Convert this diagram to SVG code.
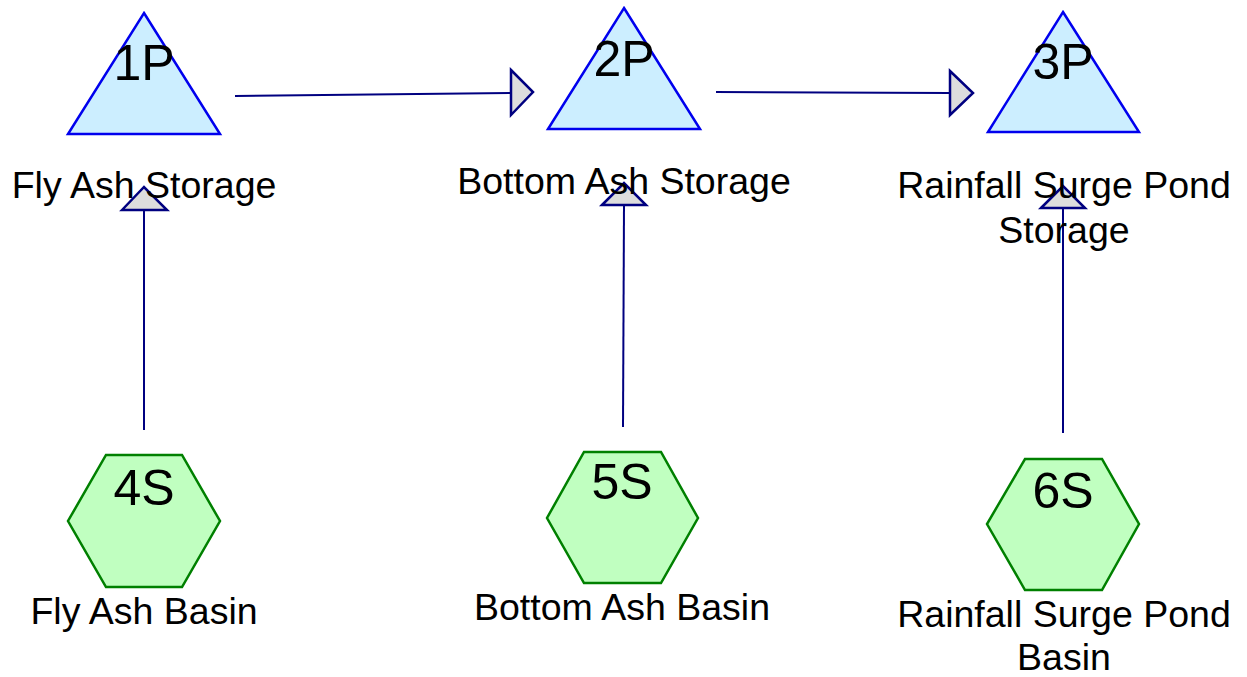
<svg xmlns="http://www.w3.org/2000/svg" width="1247" height="677" viewBox="0 0 1247 677">
<style>
.pond{fill:#CCEEFF;stroke:#0000EE;stroke-width:2.5;stroke-linejoin:miter}
.sub{fill:#C0FFC0;stroke:#008000;stroke-width:2.5}
.id{font-family:"Liberation Sans",Arial,sans-serif;font-size:50px;fill:#000;text-anchor:middle}
.nm{font-family:"Liberation Sans",Arial,sans-serif;font-size:37.5px;fill:#000;text-anchor:middle}
.ln{stroke:#000080;stroke-width:2;fill:none}
.ah{fill:#DDDDDD;stroke:#000080;stroke-width:2.5;stroke-linejoin:miter}
</style>
<rect width="1247" height="677" fill="#FFFFFF"/>
<g id="connectors">
<line class="ln" x1="235" y1="96" x2="511" y2="93"/>
<polygon class="ah" points="511,70 533,92 511,115"/>
<line class="ln" x1="716" y1="92" x2="950" y2="93"/>
<polygon class="ah" points="950,71 973,93 950,115"/>
<line class="ln" x1="144" y1="430" x2="144" y2="210"/>
<polygon class="ah" points="122,210 144,187 167,210"/>
<line class="ln" x1="623" y1="427" x2="624" y2="205"/>
<polygon class="ah" points="602,205 624,183 646,205"/>
<line class="ln" x1="1063" y1="433" x2="1063" y2="208"/>
<polygon class="ah" points="1041,208 1063,186 1085,208"/>
</g>
<g id="node-1P">
<polygon class="pond" points="144,13 220,134 68,134"/>
<text class="id" x="144" y="80">1P</text>
<text class="nm" x="144" y="198">Fly Ash Storage</text>
</g>
<g id="node-2P">
<polygon class="pond" points="624,8 700,129 548,129"/>
<text class="id" x="624" y="76">2P</text>
<text class="nm" x="624" y="194">Bottom Ash Storage</text>
</g>
<g id="node-3P">
<polygon class="pond" points="1063,12 1139,132 988,132"/>
<text class="id" x="1063" y="79">3P</text>
<text class="nm" x="1064" y="198">Rainfall Surge Pond</text>
<text class="nm" x="1064" y="243">Storage</text>
</g>
<g id="node-4S">
<polygon class="sub" points="106,455 182,455 220,521 182,587 106,587 68,521"/>
<text class="id" x="144" y="505">4S</text>
<text class="nm" x="144" y="624">Fly Ash Basin</text>
</g>
<g id="node-5S">
<polygon class="sub" points="584,452 661,452 698,518 661,583 584,583 547,518"/>
<text class="id" x="622" y="499">5S</text>
<text class="nm" x="622" y="620">Bottom Ash Basin</text>
</g>
<g id="node-6S">
<polygon class="sub" points="1025,459 1102,459 1139,524 1102,590 1025,590 987,524"/>
<text class="id" x="1063" y="508">6S</text>
<text class="nm" x="1064" y="627">Rainfall Surge Pond</text>
<text class="nm" x="1064" y="670">Basin</text>
</g>
</svg>
